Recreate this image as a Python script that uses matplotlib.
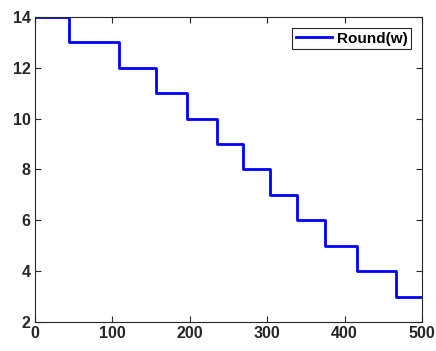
import numpy as np
import matplotlib.pyplot as plt

# step edges (x where the value drops) and levels
edges = [0, 44, 108, 156, 197, 235, 269, 304, 338, 375, 416, 466, 500]
levels = [14, 13, 12, 11, 10, 9, 8, 7, 6, 5, 4, 3]
x_ticks = [0, 100, 200, 300, 400, 500]
y_ticks = [2, 4, 6, 8, 10, 12, 14]

plt.rcParams['font.family'] = ['Liberation Sans', 'DejaVu Sans']
plt.rcParams['font.weight'] = 'bold'

fig = plt.figure(figsize=(4.36, 3.51), dpi=100)
ax = fig.add_axes([0.080, 0.0826, 0.888, 0.869])

xs = np.array(edges)
ys = np.array(levels + [levels[-1]])
ax.step(xs, ys, where='post', color='#0000ff', lw=2, label='Round(w)')

ax.set_xlim(0, 500)
ax.set_ylim(2, 14)
ax.set_xticks(x_ticks)
ax.set_yticks(y_ticks)
ax.tick_params(direction='in', length=4, width=0.8, colors='#262626',
               labelsize=11.5, top=True, right=True, pad=3)
for lab in ax.get_xticklabels() + ax.get_yticklabels():
    lab.set_fontweight('bold')
for s in ax.spines.values():
    s.set_color('#262626')
    s.set_linewidth(0.8)

leg = ax.legend(loc='upper right', fancybox=False, edgecolor='#262626',
                framealpha=1, prop={'weight': 'bold', 'size': 11},
                handlelength=2.4, handletextpad=0.3, borderpad=0.25,
                borderaxespad=0.7)
leg.get_frame().set_linewidth(0.8)

fig.savefig('out.png', dpi=100)
